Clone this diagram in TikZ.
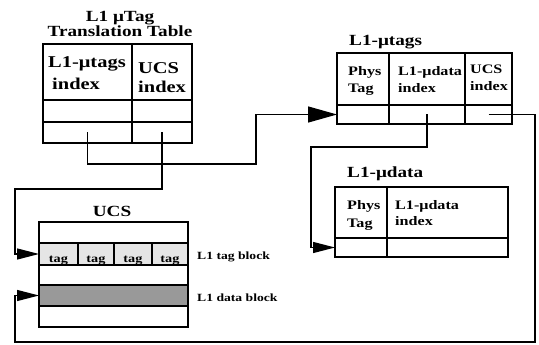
\documentclass[tikz,border=0pt]{standalone}
\usepackage{fontspec}
\setmainfont{Liberation Serif}[FakeStretch=1.24]
\usetikzlibrary{arrows.meta}
\begin{document}
\begin{tikzpicture}[x=1pt,y=-1pt,
  cell/.style={draw, line width=1.6pt, inner sep=0pt, outer sep=0pt, anchor=north west},
  ttl/.style={font=\bfseries\fontsize{15.5}{15}\selectfont, anchor=base, inner sep=0pt},
  hdrbig/.style={font=\bfseries\fontsize{16.5}{16}\selectfont, anchor=base west, inner sep=0pt},
  hdr/.style={font=\bfseries\fontsize{13}{13}\selectfont, anchor=base west, inner sep=0pt},
  tagtxt/.style={font=\bfseries\fontsize{11.5}{11}\selectfont, anchor=base, inner sep=0pt},
  side/.style={font=\bfseries\fontsize{11}{11}\selectfont, anchor=base west, inner sep=0pt},
  conn/.style={line width=1.3pt},
  bigtip/.style={-{Triangle[length=29pt,width=16pt]}},
  tip/.style={-{Triangle[length=22pt,width=11pt]}}
]
\useasboundingbox (0,0) rectangle (539,345);

% ---- Translation table
\node[ttl] (tt1) at (120,22) {L1 μTag};
\node[ttl] (tt2) at (120,37) {Translation Table};
\node[cell, minimum width=89pt, minimum height=56pt] (tA0) at (43,44) {};
\node[cell, minimum width=60pt, minimum height=56pt] (tB0) at (132,44) {};
\node[cell, minimum width=89pt, minimum height=22pt] (tA1) at (43,100) {};
\node[cell, minimum width=60pt, minimum height=22pt] (tB1) at (132,100) {};
\node[cell, minimum width=89pt, minimum height=21pt] (tA2) at (43,122) {};
\node[cell, minimum width=60pt, minimum height=21pt] (tB2) at (132,122) {};
\node[hdrbig] (ta1) at (48,68) {L1-μtags};
\node[hdrbig] (ta2) at (52,90) {index};
\node[hdrbig] (tb1) at (138,74) {UCS};
\node[hdrbig] (tb2) at (138,93) {index};

% ---- L1-utags
\node[ttl, anchor=base west] (mt) at (349,46) {L1-μtags};
\node[cell, minimum width=52pt, minimum height=52pt] (mh0) at (337,53) {};
\node[cell, minimum width=76pt, minimum height=52pt] (mh1) at (389,53) {};
\node[cell, minimum width=47pt, minimum height=52pt] (mh2) at (465,53) {};
\node[cell, minimum width=52pt, minimum height=19pt] (m0) at (337,105) {};
\node[cell, minimum width=76pt, minimum height=19pt] (m1) at (389,105) {};
\node[cell, minimum width=47pt, minimum height=19pt] (m2) at (465,105) {};
\node[hdr] (mx1) at (348,76) {Phys};
\node[hdr] (mx2) at (348,93) {Tag};
\node[hdr] (mx3) at (398,76) {L1-μdata};
\node[hdr] (mx4) at (398,93) {index};
\node[hdr] (mx5) at (470,74) {UCS};
\node[hdr] (mx6) at (470,91) {index};

% ---- L1-udata
\node[ttl, anchor=base west] (dt) at (347,177) {L1-μdata};
\node[cell, minimum width=52pt, minimum height=51pt] (dh0) at (335,187) {};
\node[cell, minimum width=121pt, minimum height=51pt] (dh1) at (387,187) {};
\node[cell, minimum width=52pt, minimum height=19pt] (d0) at (335,238) {};
\node[cell, minimum width=121pt, minimum height=19pt] (d1) at (387,238) {};
\node[hdr] (dx1) at (347,209) {Phys};
\node[hdr] (dx2) at (347,227) {Tag};
\node[hdr] (dx3) at (395,209) {L1-μdata};
\node[hdr] (dx4) at (395,225) {index};

% ---- UCS
\node[ttl] (ut) at (112,216) {UCS};
\node[cell, minimum width=149pt, minimum height=105pt] (ucs) at (39,222) {};
\node[cell, fill=black!10, minimum width=39pt, minimum height=22pt] (ut1) at (39,243) {};
\node[cell, fill=black!10, minimum width=36pt, minimum height=22pt] (ut2) at (78,243) {};
\node[cell, fill=black!10, minimum width=38pt, minimum height=22pt] (ut3) at (114,243) {};
\node[cell, fill=black!10, minimum width=36pt, minimum height=22pt] (ut4) at (152,243) {};
\draw[line width=2.4pt] (ut1.north east) -- (ut1.south east)
  (ut2.north east) -- (ut2.south east) (ut3.north east) -- (ut3.south east);
\node[cell, fill=black!40, minimum width=149pt, minimum height=21pt] (udata) at (39,285) {};
\node[tagtxt] (g1) at (58.5,262) {tag};
\node[tagtxt] (g2) at (96,262) {tag};
\node[tagtxt] (g3) at (133,262) {tag};
\node[tagtxt] (g4) at (170,262) {tag};
\node[side] (lt) at (197,259) {L1 tag block};
\node[side] (ld) at (197,301) {L1 data block};

% ---- connectors
\coordinate (k1) at (256,164);
\coordinate (k2) at (15,189);
\coordinate (k3) at (311,147);
\coordinate (k4) at (535,342);
\coordinate (k5) at (15,342);
\draw[conn, bigtip] (tA2.center) |- (k1) |- (m0.west);
\draw[conn, tip] (tB2.center) |- (k2) |- (ut1.west);
\draw[conn, tip] (m1.center) |- (k3) |- (d0.west);
\draw[conn, tip] (m2.center) -| (k4) -- (k5) |- (udata.west);
\end{tikzpicture}
\end{document}
